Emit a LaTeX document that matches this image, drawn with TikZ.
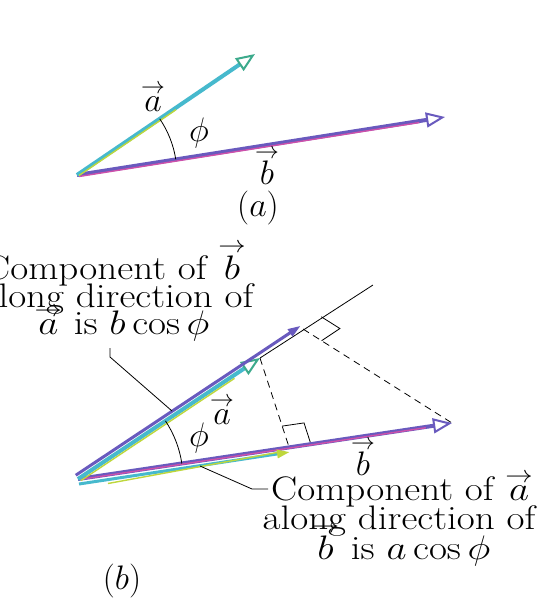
\RequirePackage{fix-cm}
\documentclass[tikz,border=0pt]{standalone}
\usepackage{amsmath}
\usetikzlibrary{arrows.meta,calc}
\definecolor{acyan}{RGB}{70,185,205}
\definecolor{ayel}{RGB}{190,215,60}
\definecolor{agreen}{RGB}{60,170,140}
\definecolor{bpur}{RGB}{105,90,190}
\definecolor{bmag}{RGB}{205,80,170}
\newcommand{\varr}{\raisebox{-2pt}{$\scriptstyle\rightarrow$}}
\newcommand{\va}{\overset{\varr}{a}}
\newcommand{\vb}{\overset{\varr}{b}}
\newcommand{\bigfont}{\fontsize{34}{37}\selectfont}
\newcommand{\wide}[1]{\scalebox{1.15}[1]{#1}}
\begin{document}
\begin{tikzpicture}[x=1pt,y=-1pt,
  lbl/.style={font=\bigfont, inner sep=0pt},
  txt/.style={font=\bigfont, inner sep=0pt, anchor=base},
  openhead/.style={-{Triangle[open,length=19pt,width=15pt,line width=2pt,color=#1]}},
  avec/.style={line width=4pt, draw=acyan, openhead=agreen},
  bvec/.style={line width=4pt, draw=bpur, openhead=bpur},
  stripe/.style={line width=1.4pt, draw=#1},
  compb/.style={line width=3pt, draw=bpur, -{Triangle[length=13pt,width=8pt]}},
  compa/.style={line width=3pt, draw=acyan, -{Triangle[length=13pt,width=8pt,color=ayel]}},
  leader/.style={line width=0.8pt, draw=black},
  dashline/.style={line width=0.8pt, draw=black, dash pattern=on 7pt off 5pt},
  rightmark/.style={line width=0.8pt, draw=black}
]
\useasboundingbox (0,0) rectangle (552,598);
\clip (0,0) rectangle (552,598);
\fill[white] (0,0) rectangle (552,598);

% ---------- panel (a) ----------
\coordinate (O1) at (77,175);
\coordinate (A1) at (255,54);
\coordinate (B1) at (445,117);
\draw[bvec] (O1) -- (B1);
\draw[stripe=bmag] ($(O1)+(2,1.5)$) -- ($(O1)!0.93!(B1)+(0,1.5)$);
\draw[avec] (O1) -- (A1);
\draw[stripe=ayel] ($(O1)+(2,0.5)$) -- ($(O1)!0.55!(A1)+(1.2,1.2)$);
\draw[line width=0.8pt] (O1) ++(-34.2:100) arc[start angle=-34.2, end angle=-9, radius=100];
\node[lbl] (la1) at (153,97) {$\va$};
\node[lbl] (lphi1) at (199,133) {$\phi$};
\node[lbl] (lb1) at (267,166) {$\vb$};
\node[lbl] (cap1) at (258,208) {($a$)};

% ---------- panel (b) ----------
\coordinate (O2) at (78,479);
\coordinate (A2) at (260,358);
\coordinate (B2) at (452,423);
\coordinate (F1) at (303,329);
\coordinate (F2) at (289,447);
\coordinate (E)  at (373,285);

% thin extension line along a
\draw[leader] (A2) -- (E);
% dashed perpendiculars
\draw[dashline] (F1) -- (B2);
\draw[dashline] (A2) -- (F2);
% right-angle marks
\draw[rightmark] (321.3,316.8) -- (339.9,328.5) -- (321.6,340.7);
\draw[rightmark] (282.2,426.1) -- (304,422.9) -- (310.8,443.8);

% b vector and component of a along b
\draw[bvec] (O2) -- (B2);
\draw[stripe=bmag] ($(O2)+(2,0.5)$) -- ($(O2)!0.93!(B2)+(0,0.8)$);
\draw[compa] ($(O2)+(1,5)$) -- ($(F2)+(1,5)$);
\draw[stripe=ayel] ($(O2)+(30,4.5)$) -- ($(F2)+(-12,5.5)$);

% a vector and component of b along a
\draw[avec] (O2) -- (A2);
\draw[stripe=ayel] ($(O2)+(3,1.5)$) -- ($(O2)!0.85!(A2)+(1.8,2.2)$);
\draw[compb] ($(O2)+(-2.2,-3.8)$) -- ($(F1)+(-2.2,-3.3)$);

% angle
\draw[line width=0.8pt] (O2) ++(-33.6:105) arc[start angle=-33.6, end angle=-8.5, radius=105];

\node[lbl] (la2) at (222,410) {$\va$};
\node[lbl] (lphi2) at (199,438) {$\phi$};
\node[lbl] (lb2) at (363,457) {$\vb$};

% leaders
\coordinate (p1) at (110,348);
\coordinate (p2) at (110,357);
\coordinate (p3) at (172,411);
\draw[leader] (p1) -- (p2) -- (p3);
\coordinate (q1) at (200,466);
\coordinate (q2) at (252,489);
\coordinate (q3) at (268,489);
\draw[leader] (q1) -- (q2) -- (q3);

% texts
\node[txt] (t1) at (115,279) {\wide{Component of $\vb$}};
\node[txt] (t2) at (117,307) {\wide{along direction of}};
\node[txt] (t3) at (122,334) {\wide{$\va$ is $b\cos\phi$}};
\node[txt] (r1) at (402,500) {\wide{Component of $\va$}};
\node[txt] (r2) at (399,529) {\wide{along direction of}};
\node[txt] (r3) at (401,559) {\wide{$\vb$ is $a\cos\phi$}};
\node[txt] (cap2) at (122,589) {($b$)};
\end{tikzpicture}
\end{document}
